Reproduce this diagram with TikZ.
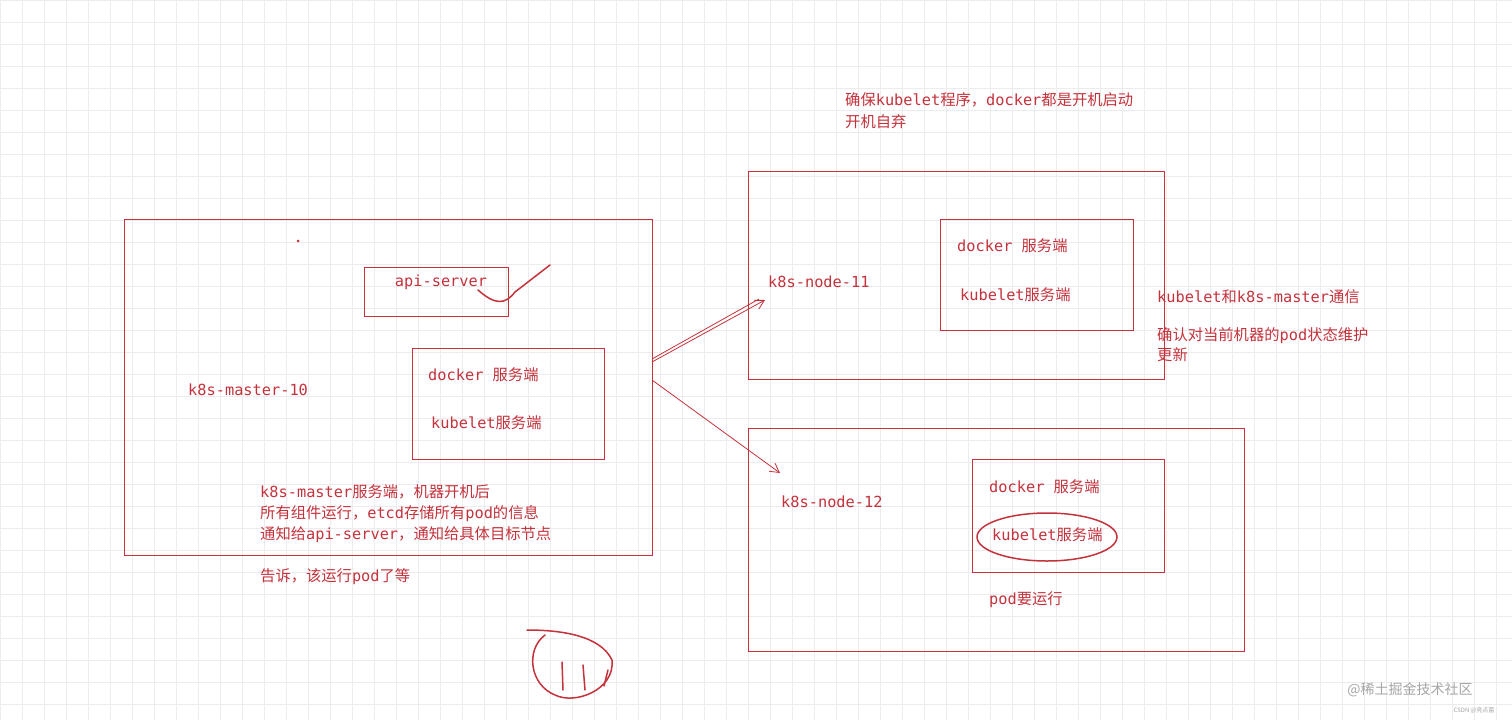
\documentclass[tikz,border=0pt]{standalone}
\usepackage{fontspec}
\setmainfont{Noto Sans CJK SC}
\newfontfamily\mo{DejaVu Sans Mono}
\newcommand{\M}[1]{{\mo #1}}
\usetikzlibrary{arrows.meta,calc}
\definecolor{rd}{HTML}{C4323C}
\definecolor{gr}{HTML}{ECECEC}
\begin{document}
\begin{tikzpicture}[x=1pt,y=-1pt,
  box/.style={draw=rd,line width=1pt},
  txt/.style={text=rd,font=\fontsize{15.3}{17}\selectfont,inner sep=0pt,anchor=west},
  arr/.style={draw=rd,line width=0.8pt,-{Straight Barb[length=9pt,width=10pt]}}]
\fill[white] (0,0) rectangle (1512,720);
\useasboundingbox (0,0) rectangle (1512,720);
\foreach \i in {0,...,69} {\draw[gr,line width=0.5pt] (\i*22,0) -- (\i*22,720);}
\foreach \i in {0,...,33} {\draw[gr,line width=0.5pt] (0,\i*22) -- (1512,\i*22);}
% master
\draw[box] (124,219) rectangle (652,555) coordinate (m);
\coordinate (mA) at (652,362); \coordinate (mB) at (652,380);
\fill[rd] (298,241) circle (1.5);
\draw[box] (364,267) rectangle (508,316);
\node[txt,anchor=center] (api) at (441,282) {\M{api-server}};
\draw[rd,line width=1.5pt,line cap=round] (478,290) .. controls (495,305) and (505,305) .. (515,292) -- (550,265);
\draw[box] (412,348) rectangle (604,459);
\node[txt] (md) at (428,375) {\M{docker\ }服务端};
\node[txt] (mk) at (431,423) {\M{kubelet}服务端};
\node[txt] (mn) at (188,390) {\M{k8s-master-10}};
\node[txt,anchor=north west,align=left,font=\fontsize{15.3}{21}\selectfont] (mt) at (260,484) {\M{k8s-master}服务端，机器开机后\\所有组件运行，\M{etcd}存储所有\M{pod}的信息\\通知给\M{api-server}，通知给具体目标节点};
\node[txt] (mt2) at (260,577) {告诉，该运行\M{pod}了等};
% node 11
\draw[box] (748,171) rectangle (1164,379);
\node[txt] (n11) at (768,282) {\M{k8s-node-11}};
\draw[box] (940,219) rectangle (1133,330);
\node[txt] (d11) at (957,246) {\M{docker\ }服务端};
\node[txt] (k11) at (960,295) {\M{kubelet}服务端};
\node[txt,anchor=north west,align=left,font=\fontsize{15.3}{22}\selectfont] (top) at (845,92) {确保\M{kubelet}程序，\M{docker}都是开机启动\\开机自弃};
\node[txt] (r1) at (1157,297) {\M{kubelet}和\M{k8s-master}通信};
\node[txt,anchor=north west,align=left,font=\fontsize{15.3}{20}\selectfont] (r2) at (1157,327) {确认对当前机器的\M{pod}状态维护\\更新};
% node 12
\draw[box] (748,428) rectangle (1244,651);
\node[txt] (n12) at (781,502) {\M{k8s-node-12}};
\draw[box] (972,459) rectangle (1164,572);
\node[txt] (d12) at (989,487) {\M{docker\ }服务端};
\node[txt] (k12) at (992,535) {\M{kubelet}服务端};
\draw[rd,line width=1.5pt] (1047,537) ellipse (70 and 24);
\node[txt] (p12) at (989,600) {\M{pod}要运行};
% arrows
\coordinate (e1) at (765,300); \coordinate (e2) at (780,473);
\coordinate (mA2) at (652,359); \coordinate (e1b) at (759,299);
\draw[arr] (mA) -- (e1);
\draw[rd,line width=0.8pt] (mA2) -- (e1b);
\draw[arr] (mB) -- (e2);
% scribble
\draw[rd,line width=1.5pt,line cap=round] (527,630) .. controls (560,630) and (600,635) .. (612,660) .. controls (615,690) and (575,705) .. (555,695) .. controls (530,685) and (525,650) .. (545,635);
\draw[rd,line width=1.5pt,line cap=round] (562,662) -- (563,690) (583,665) -- (585,690) (608,670) -- (604,686);
% watermark
\node[text=gray!70,font=\fontsize{14}{16}\selectfont,anchor=center] (wm) at (1410,690) {@稀土掘金技术社区};
\node[text=gray!70,font=\fontsize{6}{7}\selectfont,anchor=center] (wm2) at (1474,710) {CSDN @亮点菌};
\end{tikzpicture}
\end{document}
